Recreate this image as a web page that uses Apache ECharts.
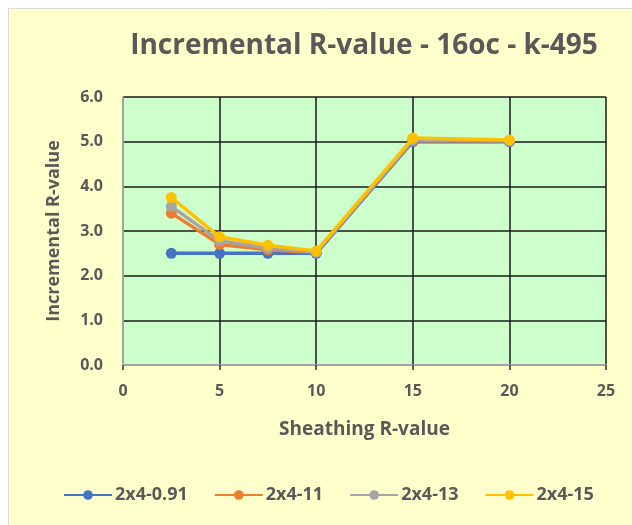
<!DOCTYPE html>
<html>
<head>
<meta charset="utf-8">
<script src="https://cdn.jsdelivr.net/npm/echarts@6/dist/echarts.min.js"></script>
<style>
html,body{margin:0;padding:0;background:#ffffff;}
#chart{width:632px;height:525px;}
</style>
</head>
<body>
<div id="chart"></div>
<script>
var xValues = [2.5, 5, 7.5, 10, 15, 20];
var seriesNames = ['2x4-0.91', '2x4-11', '2x4-13', '2x4-15'];
var s091 = [2.5, 2.5, 2.5, 2.5, 5.0, 5.0];
var s11 = [3.4, 2.7, 2.58, 2.52, 5.02, 5.02];
var s13 = [3.55, 2.78, 2.62, 2.53, 5.04, 5.02];
var s15 = [3.75, 2.87, 2.68, 2.55, 5.08, 5.04];
var colors = ['#4472C4', '#ED7D31', '#A5A5A5', '#FFC000'];
var allSeries = [s091, s11, s13, s15];

var font = '"Open Sans", sans-serif';
var textColor = '#595959';

var chart = echarts.init(document.getElementById('chart'));
chart.setOption({
  backgroundColor: 'transparent',
  animation: false,
  graphic: [{
    type: 'rect', z: -10, silent: true,
    shape: {x: 8.5, y: 8.5, width: 640, height: 540},
    style: {fill: '#FFFFCC', stroke: '#D9D9D9', lineWidth: 1}
  }],
  title: {
    text: 'Incremental R-value - 16oc - k-495',
    left: 359, top: 27, textAlign: 'center',
    textStyle: {fontFamily: font, fontWeight: 'bold', fontSize: 28, color: textColor}
  },
  grid: {left: 123, right: 26, top: 97, bottom: 160, show: true, backgroundColor: '#CCFFCC', borderWidth: 0},
  legend: {
    bottom: 16, left: 58, itemWidth: 48, itemHeight: 12, itemGap: 26,
    data: seriesNames,
    textStyle: {fontFamily: font, fontWeight: 'bold', fontSize: 18, color: textColor, padding: [0,0,0,-2]}
  },
  xAxis: {
    type: 'value', min: 0, max: 25, interval: 5,
    name: 'Sheathing R-value', nameLocation: 'middle', nameGap: 55,
    nameTextStyle: {fontFamily: font, fontWeight: 'bold', fontSize: 19, color: textColor},
    axisLine: {show: true, lineStyle: {color: '#BFBFBF', width: 1.5}},
    axisTick: {show: true, length: 5, lineStyle: {color: '#333', width: 1.5}},
    splitLine: {show: true, lineStyle: {color: '#1a1a1a', width: 1.5}},
    axisLabel: {fontFamily: font, fontWeight: 'bold', fontSize: 16, color: textColor, margin: 18}
  },
  yAxis: {
    type: 'value', min: 0, max: 6, interval: 1,
    name: 'Incremental R-value', nameLocation: 'middle', nameGap: 60,
    nameTextStyle: {fontFamily: font, fontWeight: 'bold', fontSize: 18, color: textColor},
    axisLine: {show: true, lineStyle: {color: '#BFBFBF', width: 1.5}},
    axisTick: {show: false},
    splitLine: {show: true, lineStyle: {color: '#1a1a1a', width: 1.5}},
    axisLabel: {fontFamily: font, fontWeight: 'bold', fontSize: 16, color: textColor, margin: 20,
      formatter: function(v){ return v.toFixed(1); }}
  },
  series: allSeries.map(function(vals, i){
    return {
      name: seriesNames[i], type: 'line',
      data: xValues.map(function(x, j){ return [x, vals[j]]; }),
      symbol: 'circle', symbolSize: 11,
      lineStyle: {color: colors[i], width: 3.5},
      itemStyle: {color: colors[i]},
      z: 2 + i
    };
  })
});
</script>
</body>
</html>
